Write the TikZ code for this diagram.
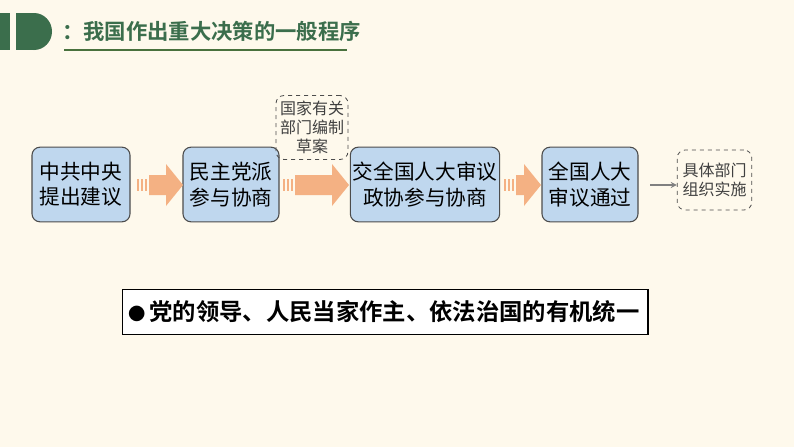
\documentclass[tikz,border=0pt]{standalone}
\usepackage{fontspec}
\newfontfamily\cjk{Noto Sans CJK SC}
\newfontfamily\cjkb{Noto Sans CJK SC Bold}
\begin{document}
\begin{tikzpicture}[x=0.75pt,y=-0.75pt,
  box/.style={draw=black!70,line width=0.8pt,fill=boxc,rounded corners=6pt,align=center,font=\cjk\fontsize{15.5}{19}\selectfont,inner sep=1pt},
  dbox/.style={draw=black!70,dashed,line width=0.6pt,rounded corners=6pt,align=center,font=\cjk\fontsize{12}{14}\selectfont,text=black!75,inner sep=1pt}]
\definecolor{bg}{HTML}{FEF9EC}
\definecolor{boxc}{HTML}{BFD7EE}
\definecolor{gr}{HTML}{3B6E4C}
\definecolor{org}{HTML}{F4B183}
\useasboundingbox (0,0) rectangle (794,447);
\fill[bg] (0,0) rectangle (794,447);
% header
\fill[gr] (0,13) rectangle (10,50);
\fill[gr] (34,31.5) ellipse[x radius=18,y radius=18.5];
\fill[gr] (16,13) rectangle (34,50);
\node[anchor=west,text=gr,font=\cjkb\fontsize{16}{18}\selectfont,inner sep=0pt] (title) at (62,31) {：我国作出重大决策的一般程序};
\draw[gr!80!olive,line width=1.5pt] (64,50) -- (347,50);
% boxes
\node[box,minimum width=73.5pt,minimum height=56pt] (b1) at (81,184.5) {中共中央\\提出建议};
\node[box,minimum width=72pt,minimum height=56pt] (b2) at (231,184.5) {民主党派\\参与协商};
\node[box,minimum width=112pt,minimum height=56pt] (b3) at (425,184.5) {交全国人大审议\\政协参与协商};
\node[box,minimum width=72pt,minimum height=56pt] (b4) at (590,184.5) {全国人大\\审议通过};
\node[dbox,minimum width=54pt,minimum height=48pt] (d1) at (312,127.5) {国家有关\\部门编制\\草案};
\node[dbox,minimum width=56pt,minimum height=45pt] (d2) at (714.5,180) {具体部门\\组织实施};
% striped arrows
\newcommand{\sarrow}[2]{%
 \fill[org] (#1,179) rectangle ++(2,12);
 \fill[org] (#1+4,179) rectangle ++(2,12);
 \fill[org] (#1+8,179) rectangle ++(2,12);
 \fill[org] (#1+12,175) -- (#2-17,175) -- (#2-17,164) -- (#2,185) -- (#2-17,206) -- (#2-17,195) -- (#1+12,195) -- cycle;}
\sarrow{137}{183}
\sarrow{283}{349}
\sarrow{504}{541}
\coordinate (g1) at (650,185);
\draw[->,gray,line width=1pt,>=stealth] (g1) -- (d2.west |- g1);
% bottom
\node[draw=black,line width=1pt,fill=white,minimum width=394pt,minimum height=34pt,anchor=west] (bt) at (122,312) {};
\node[anchor=west,font=\cjkb\fontsize{17.5}{20}\selectfont,inner sep=0pt] (bt2) at (128,312) {{\fontsize{13}{13}\selectfont●}\,党的领导、人民当家作主、依法治国的有机统一};
\end{tikzpicture}
\end{document}
